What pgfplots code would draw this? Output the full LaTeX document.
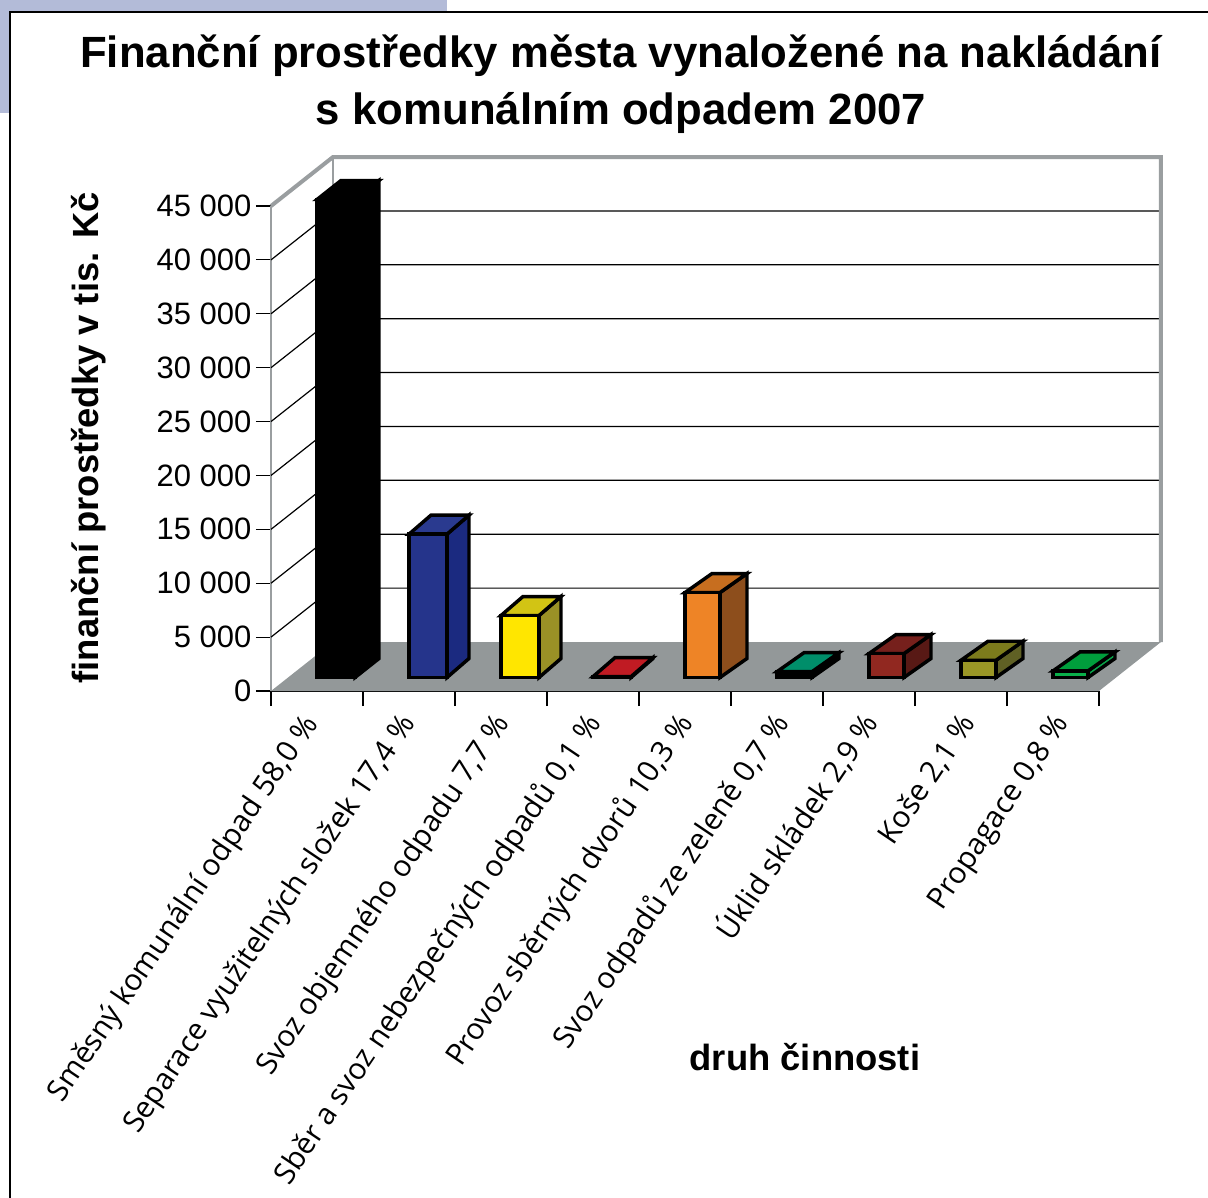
\documentclass[border=0pt]{standalone}
\usepackage{fontspec}
\setmainfont{Liberation Sans}
\newfontfamily\catfont{Open Sans}
\usepackage{xfp}
\usepackage{pgfplots}
\pgfplotsset{compat=1.18}

\definecolor{wallgray}{HTML}{9A9EA0}
\definecolor{floorgray}{HTML}{939899}
\definecolor{panelblue}{HTML}{B3BBD8}
\definecolor{blueF}{HTML}{25348B}\definecolor{blueT}{HTML}{2A3A8F}\definecolor{blueS}{HTML}{1B2A80}
\definecolor{yelF}{HTML}{FFE600}\definecolor{yelT}{HTML}{D2C414}\definecolor{yelS}{HTML}{9A9126}
\definecolor{redF}{HTML}{C01B23}\definecolor{redS}{HTML}{8A1418}
\definecolor{oraF}{HTML}{EE8426}\definecolor{oraT}{HTML}{C76E1F}\definecolor{oraS}{HTML}{8D4E1C}
\definecolor{teaF}{HTML}{008E6A}\definecolor{teaS}{HTML}{00684D}
\definecolor{broF}{HTML}{912820}\definecolor{broT}{HTML}{76201C}\definecolor{broS}{HTML}{581915}
\definecolor{oliF}{HTML}{9A9626}\definecolor{oliT}{HTML}{7C7B1C}\definecolor{oliS}{HTML}{5F6024}
\definecolor{greF}{HTML}{0AAF4A}\definecolor{greT}{HTML}{009E3C}\definecolor{greS}{HTML}{0AA34A}

% depth of the chart box in axis units
\newcommand{\boxdx}{0.674}
\newcommand{\boxdy}{4546}

% one 3D column: index, value, width and depth (px), front, top and side colours
\newcommand{\cuboid}[7]{%
  \edef\xa{\fpeval{#1+0.5}}%
  \edef\xb{\fpeval{#1+0.5+#3/92}}%
  \edef\xc{\fpeval{#1+0.5+#3/92+#4/92}}%
  \edef\xd{\fpeval{#1+0.5+#4/92}}%
  \edef\ya{1253}%
  \edef\yb{\fpeval{1253+1763}}%
  \edef\yt{\fpeval{1253+#2}}%
  \edef\yu{\fpeval{1253+#2+1763}}%
  \edef\temp{%
    \noexpand\addplot[fill=#7,draw=black,line width=2.6pt] coordinates {(\xb,\ya)(\xc,\yb)(\xc,\yu)(\xb,\yt)} -- cycle;
    \noexpand\addplot[fill=#6,draw=black,line width=2.6pt] coordinates {(\xa,\yt)(\xb,\yt)(\xc,\yu)(\xd,\yu)} -- cycle;
    \noexpand\addplot[fill=#5,draw=black,line width=2.6pt] coordinates {(\xa,\ya)(\xb,\ya)(\xb,\yt)(\xa,\yt)} -- cycle;
  }\temp
}

% gridline on the left wall and along the back wall
\newcommand{\gridline}[1]{%
  \edef\temp{%
    \noexpand\addplot[black,line width=0.9pt] coordinates {(0,#1)(\boxdx,\fpeval{#1+\boxdy})(\fpeval{9+\boxdx},\fpeval{#1+\boxdy})};
  }\temp
}

% slanted category label, moved s points to the left of its slot
\newcommand{\lbl}[2]{\raisebox{\fpeval{0.819*#1}pt}[1.05em][0.3em]{#2\hspace*{\fpeval{0.574*#1}pt}}}

\begin{document}
\begin{tikzpicture}
\path[use as bounding box] (0pt,0pt) rectangle (906pt,-898.5pt);
% page furniture behind the chart
\begin{scope}[x=0.75pt,y=-0.75pt]
  \fill[panelblue] (0,0) rectangle (447,13);
  \fill[panelblue] (0,13) rectangle (10,113);
  \draw[black,line width=1.5pt] (9.5,1198) -- (9.5,12.5) -- (1208,12.5);
\end{scope}
\begin{axis}[
  at={(203.25pt,-518.25pt)},
  anchor=south west,
  scale only axis,
  width=621pt,
  height=363.75pt,
  xmin=0,xmax=9,
  ymin=0,ymax=45000,
  clip=false,
  axis x line*=bottom,
  axis y line*=left,
  x axis line style={black,line width=1.5pt,-},
  y axis line style={wallgray,line width=1.5pt,-},
  tick align=outside,
  major tick length=11.25pt,
  tick style={black,line width=0.8pt},
  xtick={0,1,2,3,4,5,6,7,8,9},
  ytick={0,5000,10000,15000,20000,25000,30000,35000,40000,45000},
  scaled y ticks=false,
  x tick label as interval,
  xticklabels={{\lbl{12.75}{Směsný komunální odpad 58,0 \%}},
    {\lbl{9}{Separace využitelných složek 17,4 \%}},
    {\lbl{7.5}{Svoz objemného odpadu 7,7 \%}},
    {\lbl{7.5}{Sběr a svoz nebezpečných odpadů 0,1 \%}},
    {\lbl{7.5}{Provoz sběrných dvorů 10,3 \%}},
    {\lbl{4.5}{Svoz odpadů ze zeleně 0,7 \%}},
    {\lbl{6}{Úklid skládek 2,9 \%}},
    {\lbl{2.25}{Koše 2,1 \%}},
    {\lbl{1.5}{Propagace 0,8 \%}}},
  x tick label style={font=\catfont\fontsize{22.3}{22.3}\selectfont,rotate=56,anchor=north east,xshift=0.5pt,yshift=8pt},
  y tick label style={font=\fontsize{23.2}{23.2}\selectfont,
    /pgf/number format/assume math mode=true,
    /pgf/number format/1000 sep={\ }},
  title={Finanční prostředky města vynaložené na nakládání\\s komunálním odpadem 2007},
  title style={font=\bfseries\fontsize{32.8}{42.5}\selectfont,align=center,anchor=center,at={(0.4227,1.2353)}},
  xlabel={druh činnosti},
  every axis x label/.style={at={(axis description cs:0.6449,-0.7547)},anchor=center,font=\bfseries\fontsize{27.3}{27.3}\selectfont},
  ylabel={finanční prostředky v tis. Kč},
  every axis y label/.style={at={(axis description cs:-0.22,0.522)},rotate=90,anchor=center,font=\bfseries\fontsize{27.3}{27.3}\selectfont},
]
% walls and floor of the chart box
\addplot[fill=floorgray,draw=none] coordinates {(0,0)(9,0)(9.674,4546)(0.674,4546)} -- cycle;
\gridline{5000}\gridline{10000}\gridline{15000}\gridline{20000}
\gridline{25000}\gridline{30000}\gridline{35000}\gridline{40000}
\addplot[wallgray,line width=3pt] coordinates {(0,45000)(0.674,49546)(9.674,49546)(9.674,4546)};
\addplot[wallgray,line width=1.8pt] coordinates {(0.674,49546)(0.674,4546)};

% one column per activity, costs in thousands of crowns
\cuboid{0}{44350}{38}{24}{black}{black}{black}
\cuboid{1}{13300}{38}{22}{blueF}{blueT}{blueS}
\cuboid{2}{5750}{38}{22}{yelF}{yelT}{yelS}
\cuboid{3}{80}{38}{22}{redF}{redF}{redS}
\cuboid{4}{7880}{35}{27}{oraF}{oraT}{oraS}
\cuboid{5}{540}{35}{27}{black}{teaF}{black}
\cuboid{6}{2220}{35}{27}{broF}{broT}{broS}
\cuboid{7}{1600}{35}{27}{oliF}{oliT}{oliS}
\cuboid{8}{610}{35}{27}{greF}{greT}{greS}
\end{axis}
\end{tikzpicture}
\end{document}
